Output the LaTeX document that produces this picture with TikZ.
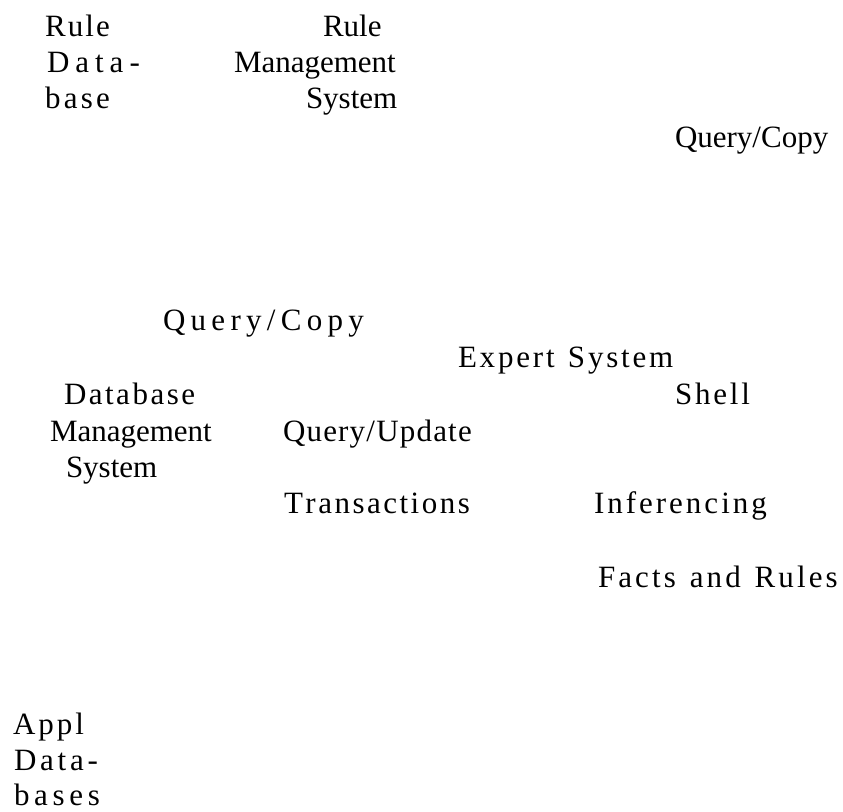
\documentclass[tikz,border=0pt]{standalone}
\usepackage{fontspec}
\setmainfont{Liberation Serif}
\newcommand\lsp[2]{\def\lspamt{#1}\lspx#2\relax}
\def\lspx#1{\ifx#1\relax\else#1\kern\lspamt\expandafter\lspx\fi}
\tikzset{lbl/.style={anchor=base west,inner sep=0pt,outer sep=0pt,font=\fontsize{31}{36}\selectfont}}
\begin{document}
\begin{tikzpicture}[x=1pt,y=1pt]
\useasboundingbox (0,0) rectangle (843,-811);
\node[lbl] (r1) at (45,-36) {\lsp{2.1pt}{Rule}};
\node[lbl] (r2) at (47,-72) {\lsp{6pt}{Data-}};
\node[lbl] (r3) at (45,-108) {\lsp{3.3pt}{base}};
\node[lbl] (m1) at (323,-36) {Rule};
\node[lbl] (m2) at (234,-72) {Management};
\node[lbl] (m3) at (306,-108) {System};
\node[lbl] (qc1) at (675,-147) {Query/Copy};
\node[lbl] (qc2) at (163,-330) {\lsp{5.3pt}{Query/Copy}};
\node[lbl] (es) at (458,-367) {\lsp{2.8pt}{Expert\ System}};
\node[lbl] (db1) at (64,-404) {\lsp{2.5pt}{Database}};
\node[lbl] (sh) at (675,-404) {\lsp{2.8pt}{Shell}};
\node[lbl] (db2) at (50,-441) {Management};
\node[lbl] (qu) at (283,-441) {\lsp{1.2pt}{Query/Update}};
\node[lbl] (db3) at (66,-477) {System};
\node[lbl] (tr) at (284,-513) {\lsp{2.5pt}{Transactions}};
\node[lbl] (inf) at (594,-513) {\lsp{3pt}{Inferencing}};
\node[lbl] (fr) at (598,-587) {\lsp{3.1pt}{Facts\ and\ Rules}};
\node[lbl] (ap1) at (13,-734) {\lsp{3pt}{Appl}};
\node[lbl] (ap2) at (14,-770) {\lsp{3.8pt}{Data-}};
\node[lbl] (ap3) at (14,-805) {\lsp{4.7pt}{bases}};
\end{tikzpicture}
\end{document}
